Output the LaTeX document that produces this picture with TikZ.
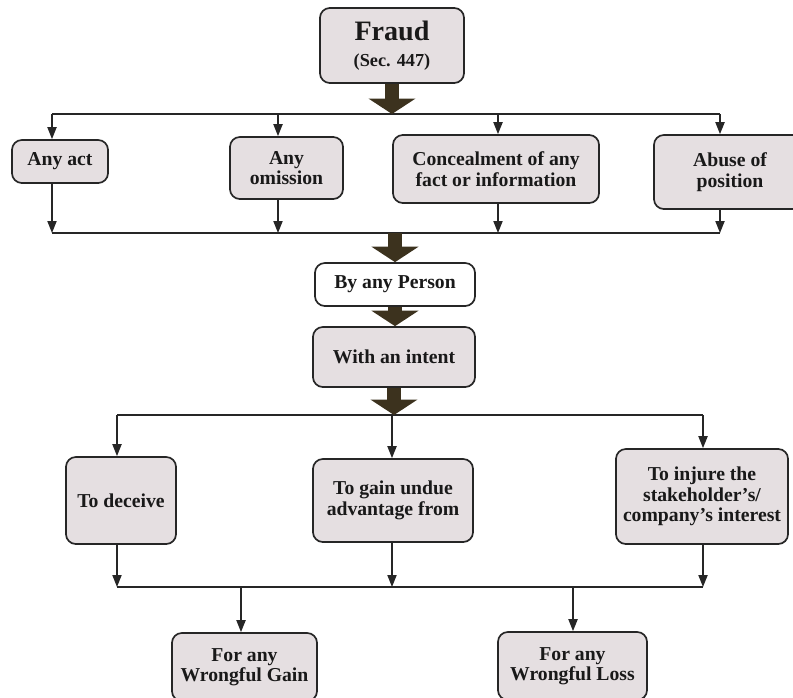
\documentclass[tikz,border=0pt]{standalone}
\usepackage{fontspec}
\setmainfont{Liberation Serif}
\usetikzlibrary{arrows.meta}
\definecolor{boxfill}{RGB}{229,223,225}
\definecolor{blockarrow}{RGB}{60,50,30}
\tikzset{
  box/.style={draw=black!85, line width=1.2pt, rounded corners=7pt, fill=boxfill,
    align=center, inner sep=0pt, text=black!90,
    font=\fontsize{14}{14.6}\selectfont\bfseries},
  conn/.style={line width=1pt, draw=black!85, -{Triangle[length=8.5pt,width=6.5pt]}},
  bus/.style={line width=1pt, draw=black!85},
  bigarrow/.style={line width=10pt, draw=blockarrow, -{Triangle[length=11pt,width=33pt]}}
}

\begin{document}
\begin{tikzpicture}[x=0.025cm, y=-0.025cm]
  \useasboundingbox (0,0) rectangle (793,697);
  \clip (0,0) rectangle (793,697);

  % Top box
  \node[box, minimum width=3.6cm, minimum height=1.875cm] (fraud) at (392,45.5)
    {\fontsize{20}{19}\selectfont Fraud\\[4pt]\fontsize{13}{15}\selectfont (Sec. 447)};

  % First row
  \node[box, minimum width=2.4cm, minimum height=1.075cm] (act) at (60,161.5) {Any act};
  \node[box, minimum width=2.825cm, minimum height=1.55cm] (omission) at (286.5,168) {Any\\omission};
  \node[box, minimum width=5.15cm, minimum height=1.7cm] (conceal) at (496,169) {Concealment of any\\fact or information};
  \node[box, minimum width=3.8cm, minimum height=1.85cm] (abuse) at (730,172) {Abuse of\\position};

  % Middle column
  \node[box, fill=white, minimum width=4cm, minimum height=1.075cm] (person) at (395,284.5) {By any Person};
  \node[box, minimum width=4.05cm, minimum height=1.5cm] (intent) at (394,357) {With an intent};

  % Second row
  \node[box, minimum width=2.75cm, minimum height=2.175cm] (deceive) at (121,500.5) {To deceive};
  \node[box, minimum width=4cm, minimum height=2.075cm] (gain) at (393,500.5) {To gain undue\\advantage from};
  \node[box, minimum width=4.3cm, minimum height=2.375cm] (injure) at (702,496.5) {To injure the\\stakeholder's/\\company's interest};

  % Results
  \node[box, minimum width=3.625cm, minimum height=1.7cm] (wgain) at (244.5,667) {For any\\Wrongful Gain};
  \node[box, minimum width=3.725cm, minimum height=1.7cm] (wloss) at (572.5,666) {For any\\Wrongful Loss};

  % Branch to the four acts and join them again
  \foreach \n/\x in {act/52, omission/278, conceal/498, abuse/720}
  {
    \coordinate (in-\n) at (\x,114);
    \coordinate (out-\n) at (\x,233);
    \draw[conn] (in-\n) -- (in-\n |- \n.north);
    \draw[conn] (out-\n |- \n.south) -- (out-\n);
  }
  \draw[bus] (in-act) -- (in-abuse);
  \draw[bus] (out-act) -- (out-abuse);

  % Branch to the three intents and join them again
  \foreach \n/\x in {deceive/117, gain/392, injure/703}
  {
    \coordinate (in-\n) at (\x,415);
    \coordinate (out-\n) at (\x,587);
    \draw[conn] (in-\n) -- (in-\n |- \n.north);
    \draw[conn] (out-\n |- \n.south) -- (out-\n);
  }
  \draw[bus] (in-deceive) -- (in-injure);
  \draw[bus] (out-deceive) -- (out-injure);

  % Down to the results
  \foreach \n/\x in {wgain/241, wloss/573}
  {
    \coordinate (tap-\n) at (\x,587);
    \draw[conn] (tap-\n) -- (tap-\n |- \n.north);
  }

  % Block arrows
  \draw[bigarrow] (fraud.south) -- (fraud.south |- in-act);
  \draw[bigarrow] (person.north |- out-act) -- (person.north);
  \draw[bigarrow] (person.south) -- (person.south |- intent.north);
  \draw[bigarrow] (intent.south) -- (intent.south |- in-deceive);
\end{tikzpicture}
\end{document}
